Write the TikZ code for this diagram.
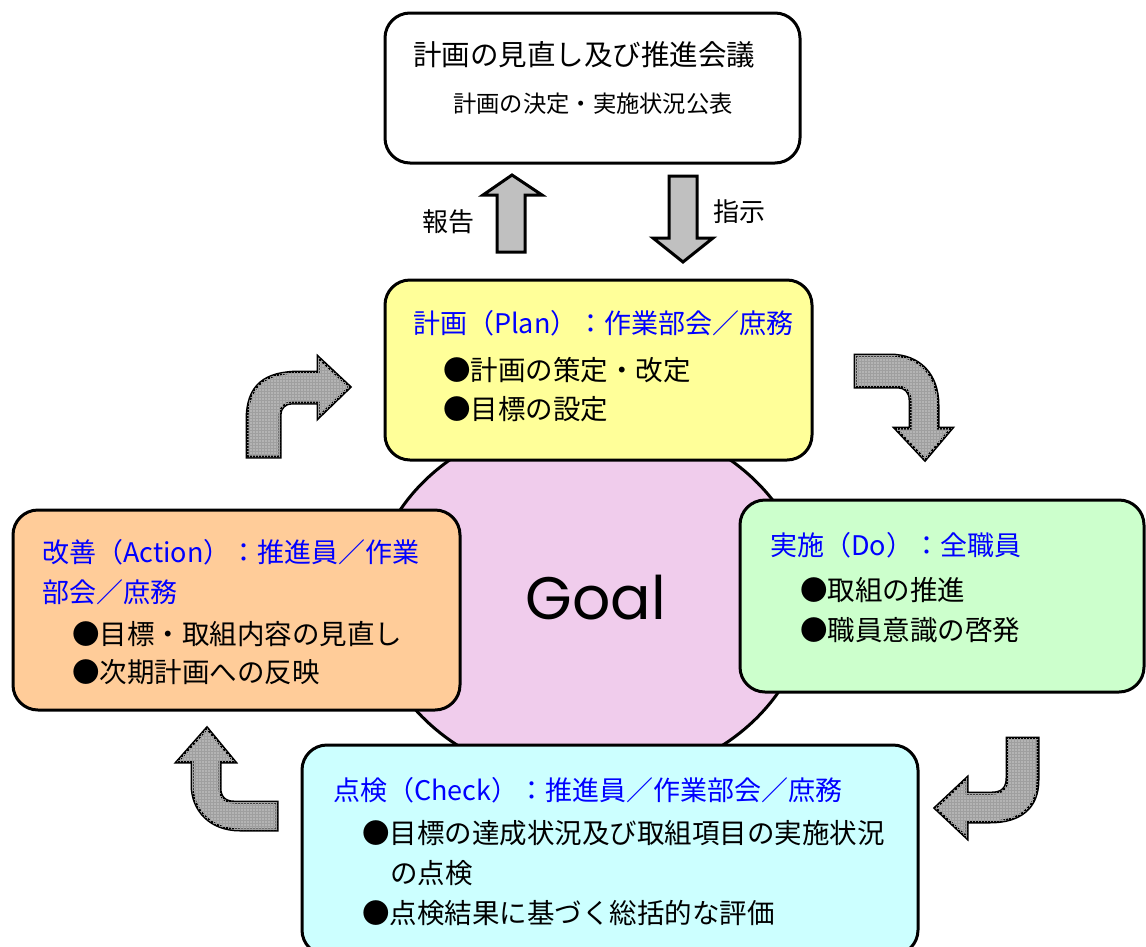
\documentclass[tikz,border=0pt]{standalone}
\usepackage{fontspec}
\setmainfont{Noto Sans CJK JP}
\newfontfamily\goalfont{Poppins}
\usetikzlibrary{patterns,shapes.geometric}
\definecolor{planY}{HTML}{FFFF99}
\definecolor{doG}{HTML}{CCFFCC}
\definecolor{actO}{HTML}{FFCC99}
\definecolor{chkC}{HTML}{CCFFFF}
\definecolor{goalP}{HTML}{F0CCEC}
\definecolor{headB}{HTML}{0000FF}
\definecolor{arrG}{HTML}{C0C0C0}
\definecolor{curG}{HTML}{B4B4B4}
\begin{document}
\begin{tikzpicture}[x=1pt,y=-1pt,
  box/.style={draw=black, line width=3pt, rounded corners=25pt, inner sep=0pt},
  txt/.style={anchor=west, inner sep=0pt, font=\fontsize{27.5}{27.5}\selectfont},
  head/.style={txt, text=headB, font=\fontsize{27}{27}\selectfont},
  plainarrow/.style={draw=black, line width=3pt, line join=miter, fill=arrG},
  curvearrow/.style={draw=black, line width=3pt, line join=miter, fill=curG,
     postaction={pattern=grid, pattern color=gray!75}}]
\useasboundingbox (0,0) rectangle (1146,946);
\clip (0,0) rectangle (1146,946);

% Goal ellipse
\node[draw=black, line width=3pt, ellipse, fill=goalP, inner sep=0pt,
      minimum width=436pt, minimum height=366pt] (goal) at (590,600) {};
\node[inner sep=0pt, font=\goalfont\fontsize{60}{60}\selectfont] (goaltxt) at (596,598) {Goal};

% top box
\node[box, fill=white, minimum width=415pt, minimum height=150pt] (top) at (592.5,88) {};
\node[txt, font=\fontsize{28.5}{28.5}\selectfont] (t1) at (413,55) {計画の見直し及び推進会議};
\node[txt, font=\fontsize{23.3}{23.3}\selectfont] (t2) at (453,104) {計画の決定・実施状況公表};

% plan box
\node[box, fill=planY, minimum width=427pt, minimum height=180pt] (plan) at (598.5,370) {};
\node[head] (p1) at (413,323) {計画（Plan）：作業部会／庶務};
\node[txt] (p2) at (443,370) {●計画の策定・改定};
\node[txt] (p3) at (443,409) {●目標の設定};

% do box
\node[box, fill=doG, minimum width=404pt, minimum height=192pt] (do) at (942,596) {};
\node[head] (d1) at (770,545) {実施（Do）：全職員};
\node[txt] (d2) at (800,590) {●取組の推進};
\node[txt] (d3) at (800,630) {●職員意識の啓発};

% action box
\node[box, fill=actO, minimum width=447pt, minimum height=200pt] (act) at (236.5,610) {};
\node[head] (a1) at (42,552) {改善（Action）：推進員／作業};
\node[head] (a2) at (42,592) {部会／庶務};
\node[txt] (a3) at (72,634) {●目標・取組内容の見直し};
\node[txt] (a4) at (72,672) {●次期計画への反映};

% check box
\node[box, fill=chkC, minimum width=616pt, minimum height=210pt] (chk) at (610,850) {};
\node[head] (c1) at (333,790) {点検（Check）：推進員／作業部会／庶務};
\node[txt] (c2) at (362,833) {●目標の達成状況及び取組項目の実施状況};
\node[txt] (c3) at (390,873) {の点検};
\node[txt] (c4) at (362,913) {●点検結果に基づく総括的な評価};

% straight arrows
\draw[plainarrow] (497,252) -- (497,195) -- (483,195) -- (512,175) -- (542,195) -- (525,195) -- (525,252) -- cycle;
\draw[plainarrow] (669,176) -- (697,176) -- (697,238) -- (713,238) -- (683,262) -- (653,238) -- (669,238) -- cycle;
\node[txt, font=\fontsize{26}{26}\selectfont] (rep) at (422,222) {報告};
\node[txt, font=\fontsize{26}{26}\selectfont] (ins) at (713,212) {指示};

% curved arrows
\draw[curvearrow] (247,457) -- (247,420) .. controls (247,385) and (265,372) .. (300,372) -- (318,372) -- (318,357) -- (350,387) -- (318,418) -- (318,403) -- (292,403) .. controls (285,403) and (280,408) .. (280,415) -- (280,457) -- cycle;
\draw[curvearrow] (855,355) -- (890,355) .. controls (920,355) and (938,375) .. (938,405) -- (938,428) -- (952,428) -- (925,460) -- (895,428) -- (910,428) -- (910,400) .. controls (910,392) and (905,387) .. (898,387) -- (855,387) -- cycle;
\draw[curvearrow] (1007,738) -- (1038,738) -- (1038,780) .. controls (1038,808) and (1020,822) .. (990,822) -- (967,822) -- (967,838) -- (935,808) -- (967,778) -- (967,793) -- (992,793) .. controls (1002,793) and (1007,788) .. (1007,778) -- cycle;
\draw[curvearrow] (277,830) -- (240,830) .. controls (210,830) and (192,810) .. (192,785) -- (192,762) -- (177,762) -- (207,728) -- (235,762) -- (220,762) -- (220,788) .. controls (220,797) and (225,802) .. (234,802) -- (277,802) -- cycle;
\end{tikzpicture}
\end{document}
